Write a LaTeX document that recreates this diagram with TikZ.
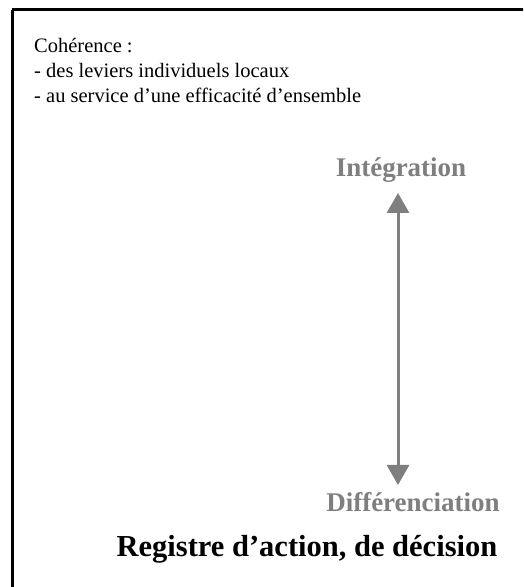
\documentclass[tikz,border=0pt]{standalone}
\usepackage{fontspec}
\setmainfont{Liberation Serif}
\usepackage{xcolor}
\usetikzlibrary{arrows.meta}
\definecolor{polegray}{HTML}{7F7F7F}

\begin{document}
\begin{tikzpicture}[x=1pt,y=1pt,
    pole/.style={text=polegray,font=\fontsize{27}{30}\selectfont\bfseries,inner sep=0pt}]
  \useasboundingbox (0,0) rectangle (523,587);
  \clip (0,0) rectangle (523,587);
  \draw[line width=3pt] (12,577) -- (540,577) (12,577) -- (12,-20);
  \node[anchor=north west,align=left,inner sep=0pt,font=\fontsize{20.5}{25}\selectfont] (coh) at (34,549)
    {Cohérence :\\- des leviers individuels locaux\\- au service d’une efficacité d’ensemble};
  \node[pole] (integ) at (401,417) {Intégration};
  \node[pole] (diff) at (413,85) {Différenciation};
  \node[inner sep=0pt,font=\fontsize{30.5}{34}\selectfont\bfseries] (reg) at (307,38) {Registre d’action, de décision};
  \coordinate (up) at (398,394);
  \coordinate (down) at (398,102);
  \draw[polegray,line width=3pt,{Triangle[width=22pt,length=20pt]}-{Triangle[width=22pt,length=20pt]}] (up) -- (down);
\end{tikzpicture}
\end{document}
